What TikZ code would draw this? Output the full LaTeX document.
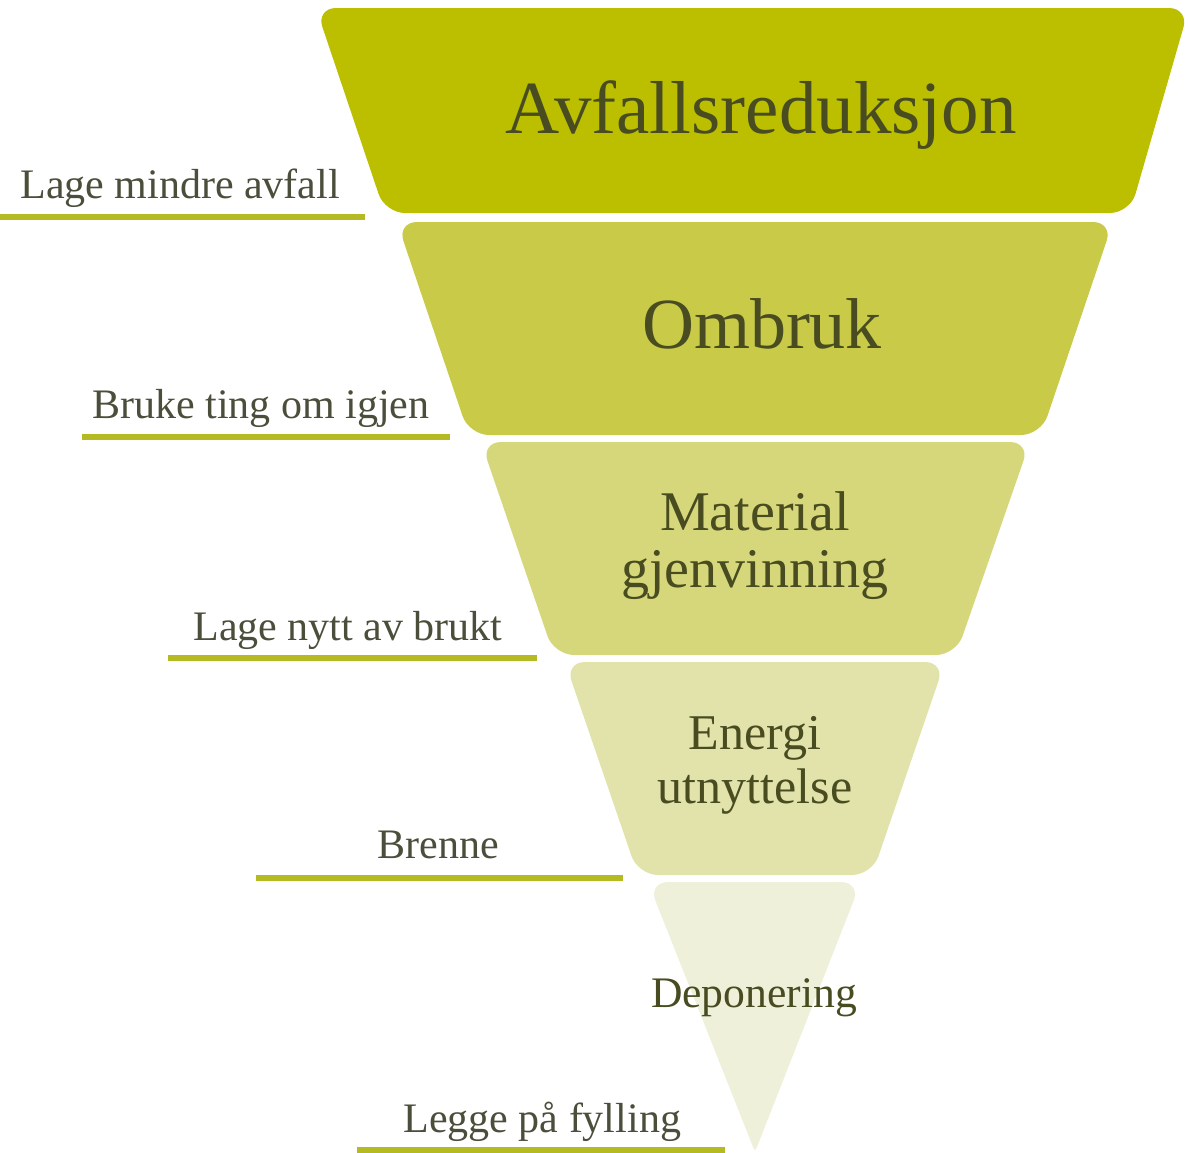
\documentclass[tikz,border=0pt]{standalone}
\usepackage{fontspec}
\setmainfont{Liberation Serif}
\definecolor{lay1}{RGB}{187,191,0}
\definecolor{lay2}{RGB}{200,202,72}
\definecolor{lay3}{RGB}{213,215,122}
\definecolor{lay4}{RGB}{225,227,170}
\definecolor{lay5}{RGB}{239,240,218}
\definecolor{uline}{RGB}{181,186,35}
\definecolor{titletxt}{RGB}{72,76,32}
\definecolor{labtxt}{RGB}{74,78,58}
\tikzset{
  layer/.style={rounded corners=10pt},
  sidelabel/.style={anchor=base west, inner sep=0pt, text=labtxt, font=\fontsize{21}{24}\selectfont},
  underl/.style={draw=uline, line width=2.6pt},
  lvtitle/.style={anchor=base, inner sep=0pt, text=titletxt, align=center}
}
\begin{document}
\begin{tikzpicture}[x=0.5pt,y=-0.5pt]
\useasboundingbox (0,0) rectangle (1188,1152);
% pyramid layers
\fill[lay1,layer] (316,8) -- (1189,8) -- (1130,213) -- (385,213) -- cycle;
\fill[lay2,layer] (397,222) -- (1113,222) -- (1041,435) -- (469,435) -- cycle;
\fill[lay3,layer] (481,442) -- (1030,442) -- (956,655) -- (554,655) -- cycle;
\fill[lay4,layer] (565,662) -- (945,662) -- (872,875) -- (638,875) -- cycle;
\fill[lay5,layer] (648,882) -- (861,882) [rounded corners=2pt] -- (755,1152) [rounded corners=10pt] -- cycle;
% titles
\node[lvtitle, font=\fontsize{37.5}{40}\selectfont] (t1) at (761,133) {Avfallsreduksjon};
\node[lvtitle, font=\fontsize{36}{40}\selectfont] (t2) at (762,348) {Ombruk};
\node[lvtitle, font=\fontsize{28}{30}\selectfont] (t3a) at (755,530) {Material};
\node[lvtitle, font=\fontsize{28}{30}\selectfont] (t3b) at (755,587) {gjenvinning};
\node[lvtitle, font=\fontsize{25}{28}\selectfont] (t4a) at (755,749) {Energi};
\node[lvtitle, font=\fontsize{25}{28}\selectfont] (t4b) at (755,803) {utnyttelse};
\node[lvtitle, font=\fontsize{21.8}{24}\selectfont] (t5) at (754,1007) {Deponering};
% side labels
\node[sidelabel] (s1) at (20,198) {Lage mindre avfall};
\node[sidelabel] (s2) at (92,418) {Bruke ting om igjen};
\node[sidelabel] (s3) at (193,640) {Lage nytt av brukt};
\node[sidelabel] (s4) at (377,858) {Brenne};
\node[sidelabel] (s5) at (403,1132) {Legge på fylling};
% underlines
\coordinate (u1a) at (0,217);   \coordinate (u1b) at (365,217);
\coordinate (u2a) at (82,437);  \coordinate (u2b) at (450,437);
\coordinate (u3a) at (168,658); \coordinate (u3b) at (537,658);
\coordinate (u4a) at (256,878); \coordinate (u4b) at (623,878);
\coordinate (u5a) at (357,1150); \coordinate (u5b) at (725,1150);
\draw[underl] (u1a) -- (u1b);
\draw[underl] (u2a) -- (u2b);
\draw[underl] (u3a) -- (u3b);
\draw[underl] (u4a) -- (u4b);
\draw[underl] (u5a) -- (u5b);
\end{tikzpicture}
\end{document}
